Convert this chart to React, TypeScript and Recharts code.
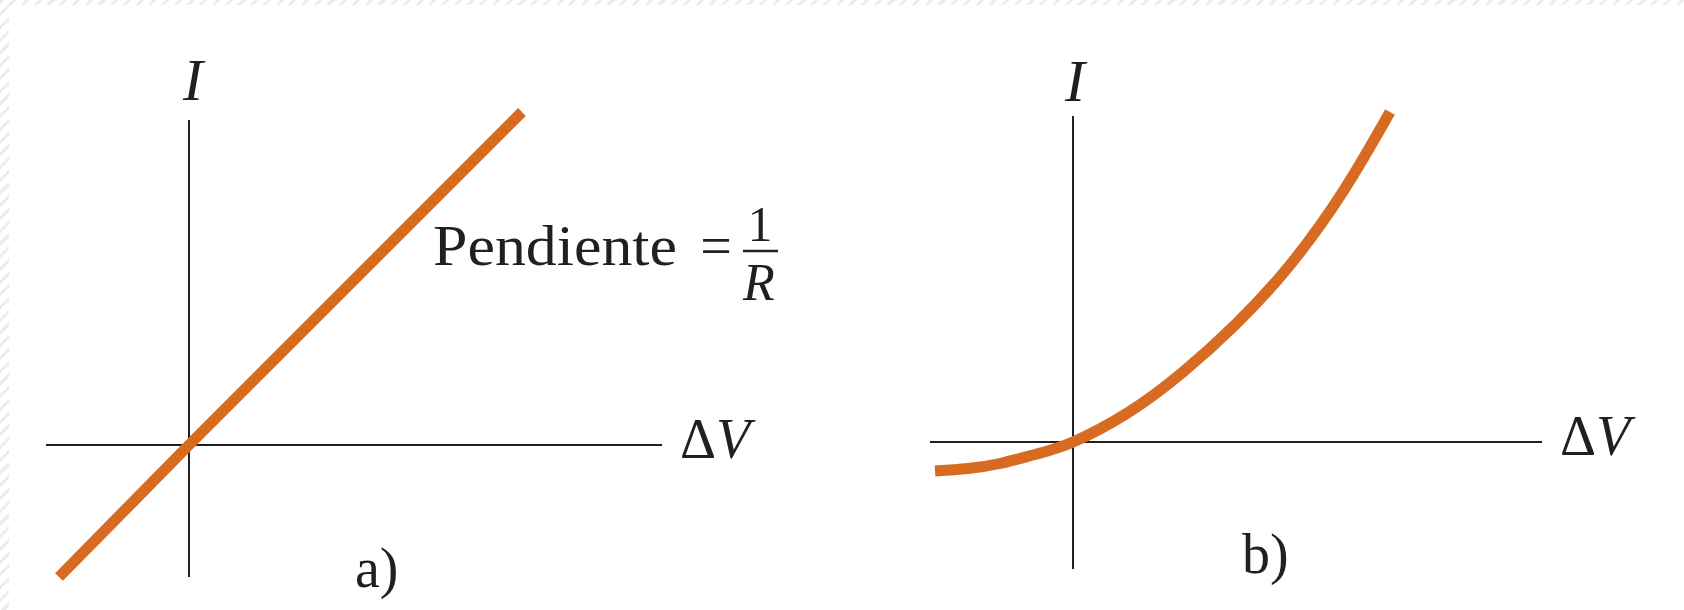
import { LineChart, Line, XAxis, YAxis, ReferenceLine } from "recharts"

// a) ohmic material: straight line through the origin
const ohmicV = [-1.3, 0, 3.33]
const ohmicI = [-1.32, 0, 3.33]

// b) non-ohmic material: curved characteristic
const diodeV = [-1.38, -1.05, -0.73, -0.38, 0, 0.56, 1.1, 1.63, 2.17, 2.71, 3.17]
const diodeI = [-0.29, -0.265, -0.215, -0.125, 0, 0.3, 0.7, 1.18, 1.77, 2.52, 3.3]

const ohmicData = ohmicV.map((v, k) => ({ v, i: ohmicI[k] }))
const diodeData = diodeV.map((v, k) => ({ v, i: diodeI[k] }))

const ORANGE = "#d86b22"
const INK = "#231f20"
const FONT = "'Liberation Serif', 'Times New Roman', serif"

const hatch = "repeating-linear-gradient(135deg, #ececec 0 3px, #ffffff 3px 9px)"

export default function App() {
  return (
    <div style={{ position: "absolute", left: 0, top: 0, width: 1684, height: 610, background: "#fff", overflow: "hidden" }}>
      <div style={{ position: "absolute", left: 0, top: 0, width: 1684, height: 5, background: hatch }} />
      <div style={{ position: "absolute", left: 0, top: 0, width: 9, height: 610, background: hatch }} />

      <div style={{ position: "absolute", left: 0, top: 0 }}>
        <LineChart width={842} height={610} data={ohmicData} margin={{ top: 100, right: 180, left: 46, bottom: 10 }}>
          <XAxis type="number" dataKey="v" domain={[-1.43, 4.73]} allowDataOverflow hide />
          <YAxis type="number" domain={[-1.55, 3.45]} allowDataOverflow hide />
          <ReferenceLine y={0} stroke={INK} strokeWidth={2} />
          <ReferenceLine segment={[{ x: 0, y: -1.32 }, { x: 0, y: 3.25 }]} stroke={INK} strokeWidth={2} />
          <Line type="linear" dataKey="i" stroke={ORANGE} strokeWidth={11} dot={false} isAnimationActive={false} />
        </LineChart>
      </div>

      <div style={{ position: "absolute", left: 842, top: 0 }}>
        <LineChart width={842} height={610} data={diodeData} margin={{ top: 100, right: 142, left: 88, bottom: 10 }}>
          <XAxis type="number" dataKey="v" domain={[-1.43, 4.69]} allowDataOverflow hide />
          <YAxis type="number" domain={[-1.58, 3.42]} allowDataOverflow hide />
          <ReferenceLine y={0} stroke={INK} strokeWidth={2} />
          <ReferenceLine segment={[{ x: 0, y: -1.27 }, { x: 0, y: 3.26 }]} stroke={INK} strokeWidth={2} />
          <Line type="natural" dataKey="i" stroke={ORANGE} strokeWidth={11} dot={false} isAnimationActive={false} />
        </LineChart>
      </div>

      <svg width={1684} height={610} style={{ position: "absolute", left: 0, top: 0, pointerEvents: "none" }}>
        <g fill={INK} fontFamily={FONT} fontSize={56}>
          <text x={193} y={100} textAnchor="middle" fontStyle="italic" fontSize={60}>I</text>
          <text x={680} y={458}>Δ<tspan fontStyle="italic">V</tspan></text>
          <text x={355} y={587}>a)</text>
          <text x={433} y={265} textLength={244} lengthAdjust="spacingAndGlyphs">Pendiente</text>
          <text x={716} y={265} textAnchor="middle">=</text>
          <text x={760} y={241} textAnchor="middle" fontSize={50}>1</text>
          <line x1={743} x2={778} y1={251} y2={251} stroke={INK} strokeWidth={2.5} />
          <text x={759} y={300} textAnchor="middle" fontStyle="italic" fontSize={52}>R</text>

          <text x={1075} y={101} textAnchor="middle" fontStyle="italic" fontSize={60}>I</text>
          <text x={1560} y={455}>Δ<tspan fontStyle="italic">V</tspan></text>
          <text x={1242} y={573}>b)</text>
        </g>
      </svg>
    </div>
  )
}
